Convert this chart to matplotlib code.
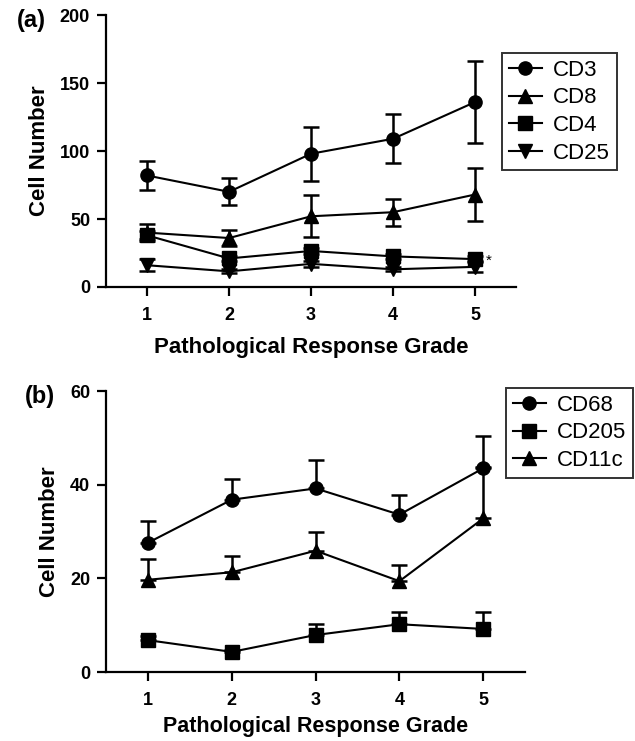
import matplotlib.pyplot as plt

plt.rcParams['font.family'] = ['Liberation Sans', 'DejaVu Sans']

grades = [1, 2, 3, 4, 5]

# panel (a): T cells
labels_a = ['CD3', 'CD8', 'CD4', 'CD25']
cd3 = [82, 70, 98, 109, 136]
cd3_err = [10.5, 10, 20, 18, 30]
cd8 = [40, 36, 52, 55, 68]
cd8_err = [6.5, 6, 15.5, 10, 19.5]
cd4 = [38, 21, 26.5, 22.5, 20.5]
cd4_err = [3, 2, 2, 2, 2]
cd25 = [16, 11.5, 17, 13, 14.8]
cd25_err = [4.5, 1.5, 2, 1.5, 4]

# panel (b): myeloid cells (upper error bars only)
labels_b = ['CD68', 'CD205', 'CD11c']
cd68 = [27.6, 36.8, 39.2, 33.6, 43.5]
cd68_err = [4.7, 4.5, 6.0, 4.3, 6.8]
cd205 = [6.8, 4.3, 7.9, 10.2, 9.2]
cd205_err = [0.8, 0.4, 2.4, 2.6, 3.6]
cd11c = [19.7, 21.3, 25.9, 19.4, 32.8]
cd11c_err = [4.5, 3.5, 3.9, 3.5, 10.9]

fig = plt.figure(figsize=(6.35, 7.41), dpi=100)
ax1 = fig.add_axes([0.167, 0.6127, 0.6457, 0.367])
ax2 = fig.add_axes([0.167, 0.0931, 0.66, 0.3792])

style = dict(color='black', lw=1.5, capsize=6, capthick=1.8, elinewidth=1.8, markersize=9.5)

h1 = []
h1.append(ax1.errorbar(grades, cd3, yerr=cd3_err, marker='o', **style)[0])
h1.append(ax1.errorbar(grades, cd8, yerr=cd8_err, marker='^', **style)[0])
h1.append(ax1.errorbar(grades, cd4, yerr=cd4_err, marker='s', **style)[0])
h1.append(ax1.errorbar(grades, cd25, yerr=cd25_err, marker='v', **style)[0])
ax1.text(5.13, 19.5, '*', fontsize=11, va='center', ha='left')
ax1.set_ylim(0, 200)
ax1.set_yticks([0, 50, 100, 150, 200])

zeros = [0] * 5
h2 = []
h2.append(ax2.errorbar(grades, cd68, yerr=[zeros, cd68_err], marker='o', **style)[0])
h2.append(ax2.errorbar(grades, cd205, yerr=[zeros, cd205_err], marker='s', **style)[0])
h2.append(ax2.errorbar(grades, cd11c, yerr=[zeros, cd11c_err], marker='^', **style)[0])
ax2.set_ylim(0, 60)
ax2.set_yticks([0, 20, 40, 60])

for ax in (ax1, ax2):
    ax.set_xlim(0.5, 5.5)
    ax.set_xticks(grades)
    ax.spines['top'].set_visible(False)
    ax.spines['right'].set_visible(False)
    ax.spines['left'].set_linewidth(1.6)
    ax.spines['bottom'].set_linewidth(1.6)
    ax.tick_params(direction='out', length=6.5, width=1.6, labelsize=13, pad=5)
    ax.tick_params(axis='x', pad=8)
    for lab in ax.get_xticklabels() + ax.get_yticklabels():
        lab.set_fontweight('bold')
    ax.set_ylabel('Cell Number', fontsize=16, fontweight='bold', labelpad=7)

ax1.set_xlabel('Pathological Response Grade', fontsize=16, fontweight='bold', labelpad=9)
ax2.set_xlabel('Pathological Response Grade', fontsize=15.5, fontweight='bold', labelpad=5)

leg_kw = dict(fontsize=16, frameon=True, fancybox=False, edgecolor='black',
              handlelength=1.5, handletextpad=0.5, borderpad=0.3, labelspacing=0.3,
              borderaxespad=0, loc='upper left')
l1 = ax1.legend(h1, labels_a, bbox_to_anchor=(502 / 635, 1 - 53 / 741), bbox_transform=fig.transFigure, **leg_kw)
l2 = ax2.legend(h2, labels_b, bbox_to_anchor=(506 / 635, 1 - 388 / 741), bbox_transform=fig.transFigure, **leg_kw)
for leg in (l1, l2):
    leg.get_frame().set_linewidth(1.4)

fig.text(31 / 635, 1 - 20 / 741, '(a)', fontsize=17, fontweight='bold', ha='center', va='center')
fig.text(40 / 635, 1 - 397 / 741, '(b)', fontsize=17, fontweight='bold', ha='center', va='center')

fig.savefig('out.png', dpi=100)
